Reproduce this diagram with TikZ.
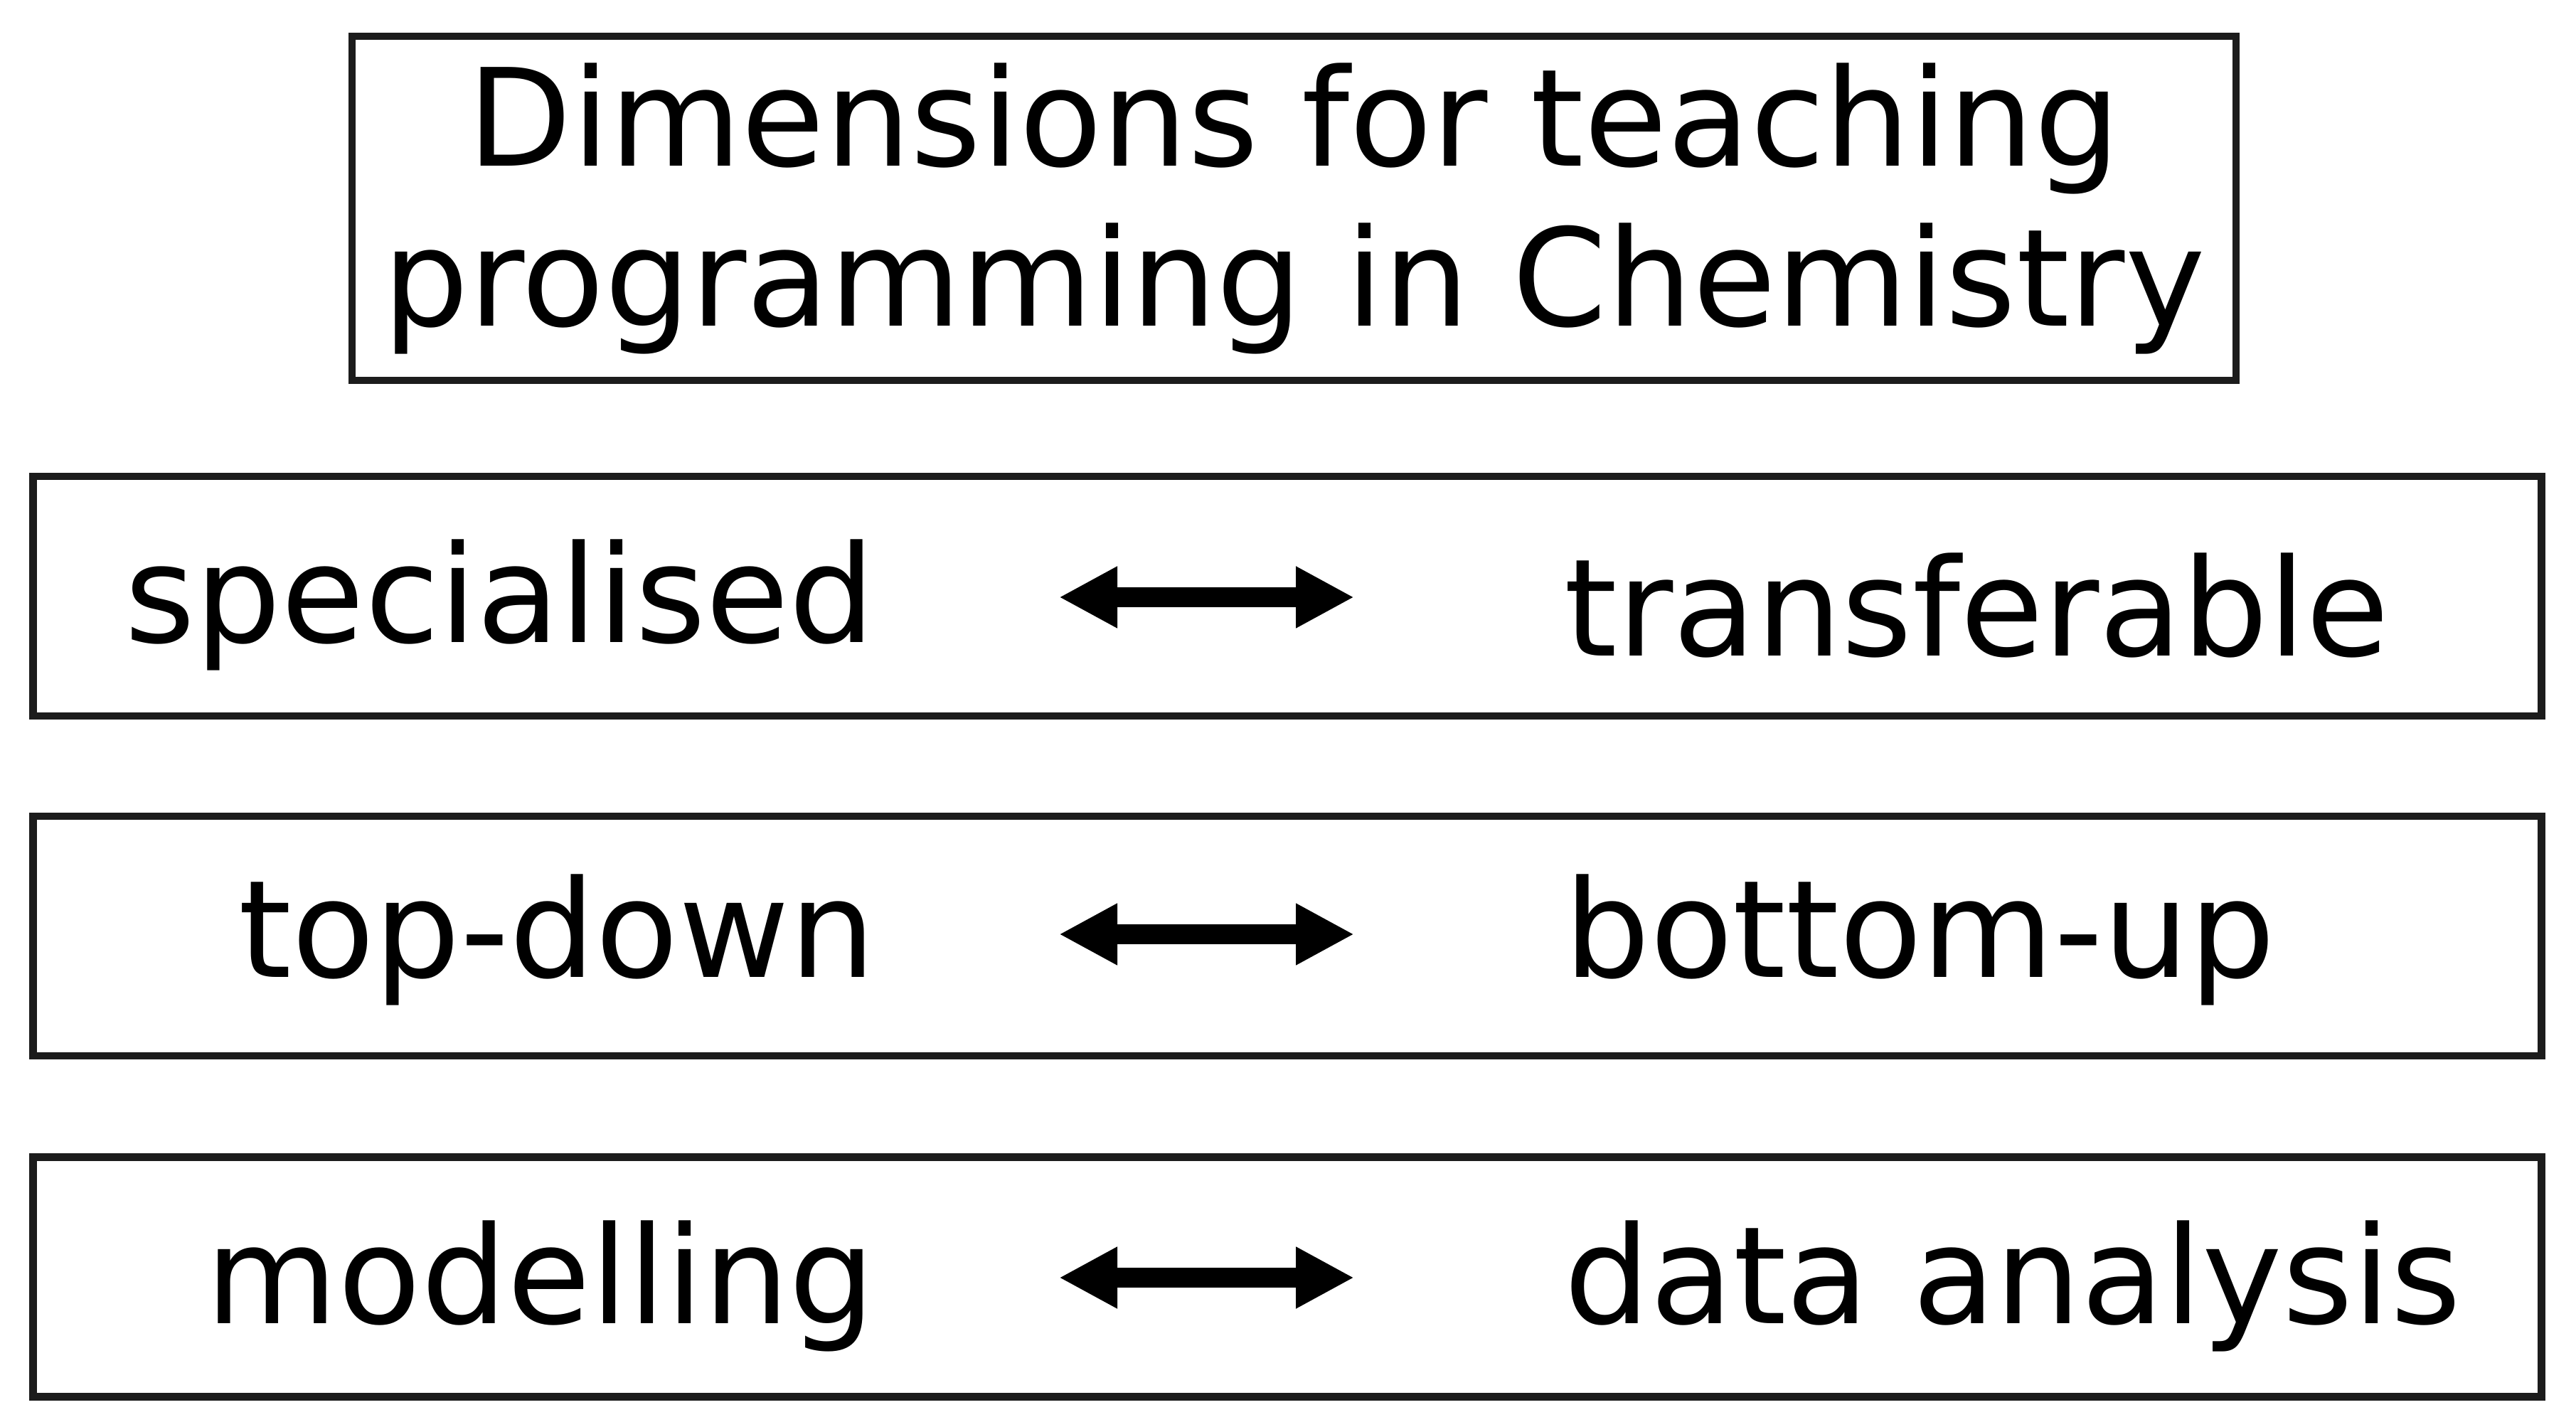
\documentclass[tikz,border=0pt]{standalone}
\usepackage{fontspec}
\setmainfont{DejaVu Sans}
\usepackage{xcolor}
\usepackage{tikz}
\usetikzlibrary{positioning, arrows.meta}
\definecolor{boxInk}{HTML}{1C1C1C}
\definecolor{txtInk}{HTML}{000000}
\tikzset{
  bigtext/.style={font=\fontsize{27.1}{32}\selectfont, text=txtInk},
  titlebox/.style={draw=boxInk, line width=1.5pt, minimum width=13.245cm,
    minimum height=2.42cm, inner sep=0pt, align=center, bigtext},
  dimbox/.style={draw=boxInk, line width=1.5pt, minimum width=17.635cm,
    minimum height=1.685cm, inner sep=0pt},
  poleleft/.style={bigtext, inner sep=0pt, anchor=base east},
  poleright/.style={bigtext, inner sep=0pt, anchor=base west},
  twoway/.style={{Triangle[length=4.1mm, width=4.05mm]}-{Triangle[length=4.1mm, width=4.05mm]},
    line width=1.4mm, txtInk},
}

\begin{document}
\begin{tikzpicture}
  \useasboundingbox (0,0) rectangle (18.11,-10);
  \node[titlebox] (title) at (9.0975,-1.465) {Dimensions for teaching\\programming in Chemistry};
  \node[dimbox] (row1) at (9.05,-4.1925) {};
  \node[dimbox] (row2) at (9.05,-6.5825) {};
  \node[dimbox] (row3) at (9.05,-8.98) {};
  \node[poleleft] (spec) at (6.16,-4.52) {specialised};
  \node[poleright] (trans) at (10.99,-4.615) {transferable};
  \node[poleleft] (topdown) at (6.16,-6.875) {top-down};
  \node[poleright] (bottomup) at (10.99,-6.875) {bottom-up};
  \node[poleleft] (model) at (6.16,-9.305) {modelling};
  \node[poleright] (data) at (10.99,-9.305) {data analysis};
  \coordinate (a1w) at (7.445,-4.2);
  \coordinate (a1e) at (9.52,-4.2);
  \coordinate (a2w) at (7.445,-6.57);
  \coordinate (a2e) at (9.52,-6.57);
  \coordinate (a3w) at (7.445,-8.985);
  \coordinate (a3e) at (9.52,-8.985);
  \draw[twoway] (a1w) -- (a1e);
  \draw[twoway] (a2w) -- (a2e);
  \draw[twoway] (a3w) -- (a3e);
\end{tikzpicture}
\end{document}
